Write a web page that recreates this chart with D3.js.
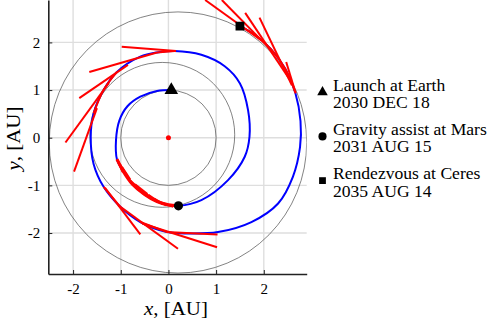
<!DOCTYPE html>
<html lang="en">
<head>
  <meta charset="UTF-8">
  <title>Earth - Mars - Ceres trajectory</title>
  <style>
    html, body { margin: 0; padding: 0; background: #fff; }
    text { font-family: "Liberation Serif", "DejaVu Serif", serif; fill: #000; }
  </style>
</head>
<body>
<div id="chart"></div>
<script src="https://d3js.org/d3.v7.min.js"></script>
<script>
  // axis ticks
  const xTicks = [-2, -1, 0, 1, 2];
  const yTicks = [-2, -1, 0, 1, 2];

  // orbits (ellipse centre and semi-axes, AU)
  const orbitNames = ['Earth', 'Mars', 'Ceres'];
  const orbitCx = [0, -0.13, 0.20];
  const orbitCy = [0, 0.06, -0.10];
  const orbitRx = [1.00, 1.52, 2.70];
  const orbitRy = [1.00, 1.52, 2.74];

  // spacecraft trajectory
  const trajectory = [
    [0.06, 1.00], [-0.24, 0.98], [-0.59, 0.86], [-0.86, 0.66], [-1.03, 0.36],
    [-1.10, -0.05], [-1.08, -0.45], [-0.95, -0.70], [-0.75, -0.98], [-0.50, -1.19],
    [-0.24, -1.34], [0.00, -1.41], [0.21, -1.43], [0.69, -1.31], [1.25, -0.89],
    [1.60, -0.40], [1.70, 0.02], [1.67, 0.58], [1.50, 1.14], [1.18, 1.50],
    [0.69, 1.74], [0.13, 1.82], [-0.24, 1.79], [-0.59, 1.70], [-1.08, 1.38],
    [-1.36, 1.00], [-1.57, 0.51], [-1.63, 0.02], [-1.57, -0.55], [-1.36, -1.03],
    [-1.01, -1.45], [-0.59, -1.77], [-0.03, -1.98], [0.41, -2.01], [1.04, -1.98],
    [1.74, -1.77], [2.30, -1.38], [2.61, -0.82], [2.76, -0.20], [2.77, 0.35],
    [2.66, 0.95], [2.45, 1.45], [2.15, 1.86], [1.84, 2.14], [1.50, 2.34]
  ];

  // thrust arcs, as index ranges into the trajectory
  const thrustArcs = [[6, 12], [21, 22], [24, 26], [29, 30], [31, 32], [40, 44]];

  // thrust direction lines [x1, y1, x2, y2]
  const thrustLines = [
    [0.16, 1.82, -0.98, 1.91],
    [-0.24, 1.79, -1.66, 1.38],
    [-0.85, 1.53, -1.87, 0.83],
    [-1.25, 1.15, -2.16, -0.10],
    [-1.50, 0.62, -1.98, -0.71],
    [-1.33, -1.05, -0.59, -2.03],
    [-1.05, -1.42, 0.20, -2.33],
    [-0.55, -1.80, 1.02, -2.30],
    [-0.05, -1.98, 1.03, -2.03],
    [2.67, 0.93, 2.47, 1.59],
    [2.59, 1.10, 1.91, 2.52],
    [2.55, 1.21, 1.61, 2.62],
    [2.20, 1.79, 1.12, 2.89],
    [1.95, 2.04, 0.77, 2.89]
  ];

  // short thrust marks along the first loop
  const innerThrust = [
    [-1.06, -0.48, -0.96, -0.72],
    [-1.02, -0.55, -0.86, -0.80],
    [-0.97, -0.62, -0.80, -0.88],
    [-0.80, -0.90, -0.58, -1.10],
    [-0.70, -0.98, -0.44, -1.18],
    [-0.55, -1.12, -0.30, -1.30],
    [-0.42, -1.20, -0.18, -1.36],
    [-0.30, -1.28, -0.05, -1.42],
    [-0.15, -1.36, 0.10, -1.45]
  ];

  // events
  const eventSymbols = ['triangle', 'circle', 'square'];
  const eventX = [0.06, 0.21, 1.50];
  const eventY = [1.00, -1.43, 2.34];
  const eventTitle = ['Launch at Earth', 'Gravity assist at Mars', 'Rendezvous at Ceres'];
  const eventDate = ['2030 DEC 18', '2031 AUG 15', '2035 AUG 14'];

  const width = 488;
  const height = 329;
  const plot = { left: 48.3, right: 306.7, top: 0, bottom: 274 };
  const stretch = 1.1; // the original serif face is wider than Times

  const x = d3.scaleLinear().domain([-2.52, 2.90]).range([plot.left, plot.right]);
  const y = d3.scaleLinear().domain([-2.86, 2.89]).range([plot.bottom, plot.top]);

  const symbolType = {
    triangle: d3.symbolTriangle,
    circle: d3.symbolCircle,
    square: d3.symbolSquare
  };
  const plotSymbolSize = { triangle: 80, circle: 66, square: 78 };
  const legendSymbolSize = { triangle: 48, circle: 52, square: 46 };

  const svg = d3.select('#chart').append('svg')
    .attr('width', width)
    .attr('height', height);

  svg.append('clipPath').attr('id', 'clip')
    .append('rect')
    .attr('x', plot.left).attr('y', plot.top)
    .attr('width', plot.right - plot.left).attr('height', plot.bottom - plot.top);

  // grid
  const grid = svg.append('g').attr('stroke', '#dedede').attr('stroke-width', 1.4);
  grid.selectAll('line.gx').data(xTicks).join('line')
    .attr('x1', d => x(d)).attr('x2', d => x(d))
    .attr('y1', plot.top).attr('y2', plot.bottom);
  grid.selectAll('line.gy').data(yTicks).join('line')
    .attr('class', 'gy')
    .attr('x1', plot.left).attr('x2', plot.right)
    .attr('y1', d => y(d)).attr('y2', d => y(d));

  const area = svg.append('g').attr('clip-path', 'url(#clip)');

  // planet orbits
  area.append('g')
    .attr('fill', 'none').attr('stroke', '#5a5a5a').attr('stroke-width', 0.75)
    .selectAll('ellipse')
    .data(orbitNames)
    .join('ellipse')
    .attr('cx', (d, i) => x(orbitCx[i]))
    .attr('cy', (d, i) => y(orbitCy[i]))
    .attr('rx', (d, i) => x(orbitCx[i] + orbitRx[i]) - x(orbitCx[i]))
    .attr('ry', (d, i) => y(orbitCy[i]) - y(orbitCy[i] + orbitRy[i]));

  const line = d3.line()
    .x(d => x(d[0]))
    .y(d => y(d[1]))
    .curve(d3.curveCatmullRom.alpha(0.5));

  area.append('path')
    .datum(trajectory)
    .attr('d', line)
    .attr('fill', 'none')
    .attr('stroke', '#0000ff')
    .attr('stroke-width', 2);

  // thrust
  const red = area.append('g').attr('stroke', '#ff0000').attr('fill', 'none');

  red.selectAll('path.arc')
    .data(thrustArcs)
    .join('path')
    .attr('class', 'arc')
    .attr('stroke-width', (d, i) => i === 0 ? 3.2 : 2)
    .attr('d', d => line(trajectory.slice(d[0], d[1] + 1)));

  red.selectAll('line.thrust')
    .data(thrustLines)
    .join('line')
    .attr('class', 'thrust')
    .attr('stroke-width', 2)
    .attr('x1', d => x(d[0])).attr('y1', d => y(d[1]))
    .attr('x2', d => x(d[2])).attr('y2', d => y(d[3]));

  red.selectAll('line.inner')
    .data(innerThrust)
    .join('line')
    .attr('class', 'inner')
    .attr('stroke-width', 2)
    .attr('x1', d => x(d[0])).attr('y1', d => y(d[1]))
    .attr('x2', d => x(d[2])).attr('y2', d => y(d[3]));

  // sun
  area.append('circle')
    .attr('cx', x(0)).attr('cy', y(0)).attr('r', 2.5)
    .attr('fill', '#ff0000');

  // event markers
  area.selectAll('path.event')
    .data(eventSymbols)
    .join('path')
    .attr('class', 'event')
    .attr('transform', (d, i) => `translate(${x(eventX[i])},${y(eventY[i])})`)
    .attr('d', d => d3.symbol(symbolType[d], plotSymbolSize[d])())
    .attr('fill', '#000');

  // axes
  const xAxis = d3.axisBottom(x)
    .tickValues(xTicks)
    .tickSizeInner(-4)
    .tickSizeOuter(0)
    .tickPadding(9)
    .tickFormat(d => String(d));
  const yAxis = d3.axisLeft(y)
    .tickValues(yTicks)
    .tickSizeInner(-4)
    .tickSizeOuter(0)
    .tickPadding(8)
    .tickFormat(d => String(d));

  const gx = svg.append('g')
    .attr('transform', `translate(0,${plot.bottom})`)
    .call(xAxis);
  const gy = svg.append('g')
    .attr('transform', `translate(${plot.left},0)`)
    .call(yAxis);

  [gx, gy].forEach(g => {
    g.select('.domain').attr('stroke', '#222').attr('stroke-width', 1.6);
    g.selectAll('.tick line').attr('stroke', '#222').attr('stroke-width', 1);
    g.selectAll('.tick text')
      .attr('font-size', 15)
      .attr('fill', '#000');
  });

  // axis titles
  const xLabel = svg.append('text')
    .attr('transform', `translate(176,314.5) scale(${stretch},1)`)
    .attr('text-anchor', 'middle')
    .attr('font-size', 19);
  xLabel.append('tspan').attr('font-style', 'italic').text('x');
  xLabel.append('tspan').text(', [AU]');

  const yLabel = svg.append('text')
    .attr('transform', `translate(19.5,138.5) rotate(-90) scale(${stretch},1)`)
    .attr('text-anchor', 'middle')
    .attr('font-size', 19);
  yLabel.append('tspan').attr('font-style', 'italic').text('y');
  yLabel.append('tspan').text(', [AU]');

  // legend
  const legend = svg.append('g')
    .selectAll('g')
    .data(eventSymbols)
    .join('g')
    .attr('transform', (d, i) => `translate(322.5,${90.7 + i * 44.2})`);

  legend.append('path')
    .attr('transform', 'translate(0,1.5)')
    .attr('d', d => d3.symbol(symbolType[d], legendSymbolSize[d])())
    .attr('fill', '#000');

  const legendText = legend.append('g')
    .attr('transform', `translate(10.5,0) scale(${stretch},1)`);

  legendText.append('text')
    .attr('y', 0)
    .attr('font-size', 16)
    .text((d, i) => eventTitle[i]);

  legendText.append('text')
    .attr('y', 17.6)
    .attr('font-size', 16)
    .text((d, i) => eventDate[i]);
</script>
</body>
</html>
